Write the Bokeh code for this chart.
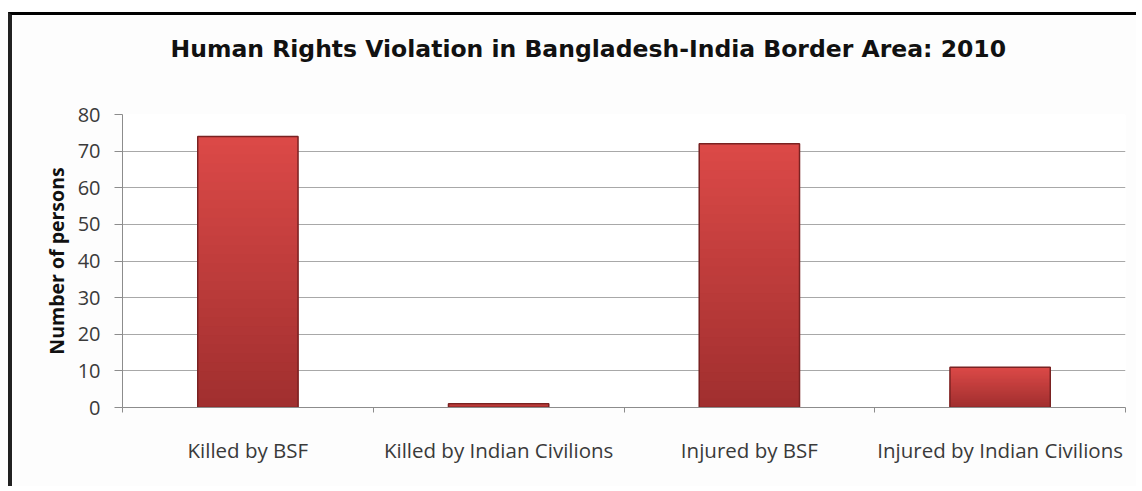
from bokeh.plotting import figure
from bokeh.models import FixedTicker, Range1d, Title
from bokeh.embed import file_html
from bokeh.resources import INLINE

categories = ["Killed by BSF", "Killed by Indian Civilions", "Injured by BSF", "Injured by Indian Civilions"]
values = [74, 1, 72, 11]
y_ticks = [0, 10, 20, 30, 40, 50, 60, 70, 80]
title_text = "Human Rights Violation in Bangladesh-India Border Area: 2010"
y_label = "Number of persons"

W, H = 1128, 474
p = figure(width=W, height=H, output_backend="svg", toolbar_location=None,
           x_range=Range1d(0, len(categories)), y_range=Range1d(0, 80),
           min_border_left=110, min_border_right=15, min_border_top=99, min_border_bottom=82)
p.styles = {"border-top": "3px solid #000", "border-left": "4px solid #222",
            "margin-top": "12px", "margin-left": "8px"}
p.background_fill_color = "white"
p.border_fill_color = "#fdfdfd"
p.outline_line_color = None

# spacer between the frame and the title
p.add_layout(Title(text=" ", text_font_size="31px"), "above")

p.title.text = title_text
p.title.text_font = "DejaVu Sans"
p.title.text_font_size = "23.5px"
p.title.text_font_style = "bold"
p.title.text_color = "#111111"
p.title.align = "left"
p.title.offset = 48

xs = [i + 0.5 for i in range(len(categories))]

# gradient bars: nested slices, tallest (lightest) first, darker ones over the lower part
N = 30
top_c = (0xdc, 0x4a, 0x48)
bot_c = (0xa0, 0x2f, 0x2f)
sx, st, sc = [], [], []
for k in reversed(range(N)):
    t = (k + 0.5) / N
    c = tuple(int(bot_c[j] + (top_c[j] - bot_c[j]) * t) for j in range(3))
    for x, v in zip(xs, values):
        sx.append(x)
        st.append(v * (k + 1) / N)
        sc.append("#%02x%02x%02x" % c)
p.vbar(x=sx, bottom=0, top=st, width=0.4, fill_color=sc, line_color=None)
p.vbar(x=xs, top=values, width=0.4, fill_color=None, line_color="#7a2222", line_width=1.5)

# x axis
xa = p.xaxis[0]
xa.ticker = FixedTicker(ticks=xs, minor_ticks=list(range(len(categories) + 1)))
xa.major_label_overrides = {x: c for x, c in zip(xs, categories)}
xa.major_tick_out = 0
xa.major_tick_in = 0
xa.minor_tick_out = 5
xa.minor_tick_in = 0
xa.minor_tick_line_color = "#8c8c8c"
xa.axis_line_color = "#8c8c8c"
xa.major_label_standoff = 23
xa.major_label_text_font = "Open Sans"
xa.major_label_text_font_size = "20.5px"
xa.major_label_text_color = "#3a3a3a"

ya = p.yaxis[0]
ya.ticker = FixedTicker(ticks=y_ticks)
ya.axis_line_color = "#8c8c8c"
ya.major_tick_line_color = "#8c8c8c"
ya.major_tick_out = 8
ya.major_tick_in = 0
ya.minor_tick_line_color = None
ya.major_label_standoff = 14
ya.major_label_text_font = "Open Sans"
ya.major_label_text_font_size = "20px"
ya.major_label_text_color = "#3a3a3a"
ya.axis_label = y_label
ya.axis_label_text_font = "Open Sans"
ya.axis_label_text_font_size = "19.5px"
ya.axis_label_text_font_style = "bold"
ya.axis_label_text_color = "#111111"
ya.axis_label_standoff = 5

p.xgrid.grid_line_color = None
p.ygrid.ticker = FixedTicker(ticks=y_ticks)
p.ygrid.grid_line_color = "#a8a8a8"
p.ygrid.grid_line_width = 1

open("out.html", "w").write(file_html(p, INLINE))
